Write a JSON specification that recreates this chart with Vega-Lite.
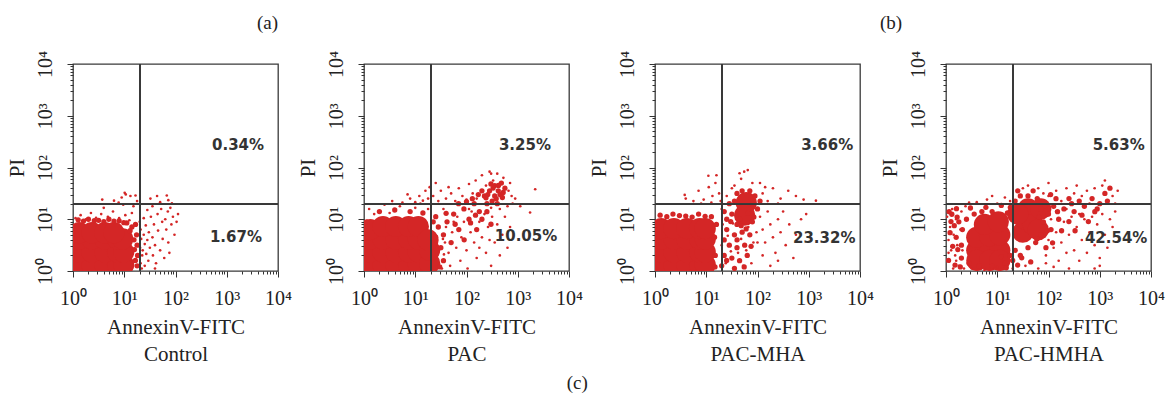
{
"$schema": "https://vega.github.io/schema/vega-lite/v6.json",
"background": "white",
"padding": {"left": 5, "top": 12, "right": 0, "bottom": 0},
"bounds": "flush",
"spacing": 86,
"title": {"text": "(c)", "orient": "bottom", "anchor": "middle", "offset": 9, "dx": -8, "font": "Liberation Serif", "fontSize": 19, "fontWeight": "normal", "color": "#222"},
"config": {"view": {"stroke": "#3a3a3a", "strokeWidth": 1.3}, "font": "Liberation Serif",
"axisX": {"values": [1,2,3,4,5,6,7,8,9,10,20,30,40,50,60,70,80,90,100,200,300,400,500,600,700,800,900,1000,2000,3000,4000,5000,6000,7000,8000,9000,10000], "labelExpr": "datum.value==1?'10⁰':datum.value==10?'10¹':datum.value==100?'10²':datum.value==1000?'10³':datum.value==10000?'10⁴':''", "labelFlush": false, "labelOverlap": false, "grid": false, "domain": false, "tickColor": "#333", "tickSize": {"condition": {"test": "indexof([1,10,100,1000,10000], datum.value) >= 0", "value": 6}, "value": 3}, "labelFont": "Liberation Serif", "labelFontSize": 20, "labelColor": "#222", "labelPadding": 11, "titleFont": "Liberation Serif", "titleFontSize": 21, "titleFontWeight": "normal", "titleColor": "#222", "titlePadding": 8, "titleLineHeight": 27},
"axisY": {"values": [1,2,3,4,5,6,7,8,9,10,20,30,40,50,60,70,80,90,100,200,300,400,500,600,700,800,900,1000,2000,3000,4000,5000,6000,7000,8000,9000,10000], "labelExpr": "datum.value==1?'10⁰':datum.value==10?'10¹':datum.value==100?'10²':datum.value==1000?'10³':datum.value==10000?'10⁴':''", "labelAngle": 270, "labelAlign": "center", "labelBaseline": "bottom", "labelFlush": false, "labelOverlap": false, "grid": false, "domain": false, "tickColor": "#333", "tickSize": {"condition": {"test": "indexof([1,10,100,1000,10000], datum.value) >= 0", "value": 6}, "value": 3}, "labelFont": "Liberation Serif", "labelFontSize": 20, "labelColor": "#222", "labelPadding": 12, "titleFont": "Liberation Serif", "titleFontSize": 21, "titleFontWeight": "normal", "titleColor": "#222", "titlePadding": 8}
},
"datasets": {
"pct": [
{"g":"Control","x":1660,"y":275,"t":"0.34%"},{"g":"Control","x":1510,"y":4.57,"t":"1.67%"},
{"g":"PAC","x":1380,"y":275,"t":"3.25%"},{"g":"PAC","x":1450,"y":4.68,"t":"10.05%"},
{"g":"PAC-MHA","x":2290,"y":275,"t":"3.66%"},{"g":"PAC-MHA","x":2000,"y":4.37,"t":"23.32%"},
{"g":"PAC-HMHA","x":2340,"y":275,"t":"5.63%"},{"g":"PAC-HMHA","x":2090,"y":4.37,"t":"42.54%"}
],
"control": [
{"d":"core","x":1.32,"y":1.32},{"d":"core","x":2.34,"y":1.32},{"d":"core","x":4.17,"y":1.32},{"d":"core","x":7.41,"y":1.32},{"d":"core","x":9.77,"y":1.32},
{"d":"core","x":1.32,"y":2.34},{"d":"core","x":2.34,"y":2.34},{"d":"core","x":4.17,"y":2.34},{"d":"core","x":7.41,"y":2.34},{"d":"core","x":9.77,"y":2.34},
{"d":"core","x":1.32,"y":4.17},{"d":"core","x":2.34,"y":4.17},{"d":"core","x":4.17,"y":4.17},{"d":"core","x":7.41,"y":4.17},{"d":"core","x":9.33,"y":4.17},
{"d":"core","x":1.32,"y":5.5},{"d":"core","x":2.34,"y":5.5},{"d":"core","x":4.17,"y":5.5},{"d":"core","x":6.31,"y":5.5},
{"d":"dense","x":1.26,"y":9.77},{"d":"dense","x":2.0,"y":10},{"d":"dense","x":3.16,"y":9.55},{"d":"dense","x":5.01,"y":10},{"d":"dense","x":7.94,"y":9.33},{"d":"dense","x":11.2,"y":8.51},{"d":"dense","x":14.1,"y":7.08},{"d":"dense","x":17.4,"y":5.01},{"d":"dense","x":17.8,"y":3.16},{"d":"dense","x":18.2,"y":2.0},{"d":"dense","x":17.8,"y":1.26},{"d":"dense","x":16.6,"y":7.94},
{"d":"dense","x":1.6,"y":9.2},{"d":"dense","x":2.6,"y":9.4},{"d":"dense","x":4.0,"y":9.0},{"d":"dense","x":6.3,"y":9.2},{"d":"dense","x":9.8,"y":8.6},{"d":"dense","x":13,"y":6.0},{"d":"dense","x":15.5,"y":4.0},{"d":"dense","x":16.5,"y":1.6},{"d":"dense","x":15.8,"y":2.6},
{"d":"event","x":3.72,"y":24.0},{"d":"event","x":6.31,"y":22.9},{"d":"event","x":8.91,"y":26.3},{"d":"event","x":13.2,"y":28.2},{"d":"event","x":16.6,"y":28.8},{"d":"event","x":17.8,"y":22.4},{"d":"event","x":10.2,"y":32.4},{"d":"event","x":32.4,"y":25.1},{"d":"event","x":43.7,"y":28.2},{"d":"event","x":67.6,"y":28.8},{"d":"event","x":72.4,"y":23.4},{"d":"event","x":85.1,"y":20.4},{"d":"event","x":7.76,"y":20.9},{"d":"event","x":10.7,"y":30.2},{"d":"event","x":50.1,"y":21.4},
{"d":"event","x":20.0,"y":8.91},{"d":"event","x":20.9,"y":6.31},{"d":"event","x":21.4,"y":4.17},{"d":"event","x":20.4,"y":2.82},{"d":"event","x":22.4,"y":2.0},{"d":"event","x":20.9,"y":1.41},{"d":"event","x":24.0,"y":5.01},{"d":"event","x":25.1,"y":3.31},{"d":"event","x":22.9,"y":2.51},{"d":"event","x":26.3,"y":7.59},{"d":"event","x":28.2,"y":3.98},{"d":"event","x":26.9,"y":2.14},{"d":"event","x":25.1,"y":1.26},{"d":"event","x":30.2,"y":5.62},{"d":"event","x":31.6,"y":2.82},{"d":"event","x":29.5,"y":1.58},{"d":"event","x":33.1,"y":11.2},{"d":"event","x":35.5,"y":4.47},{"d":"event","x":36.3,"y":2.0},{"d":"event","x":38.0,"y":7.94},{"d":"event","x":39.8,"y":3.16},{"d":"event","x":41.7,"y":1.41},{"d":"event","x":44.7,"y":12.6},{"d":"event","x":45.7,"y":6.03},{"d":"event","x":50.1,"y":2.51},{"d":"event","x":52.5,"y":15.8},{"d":"event","x":55.0,"y":8.91},{"d":"event","x":56.2,"y":4.17},{"d":"event","x":60.3,"y":1.78},{"d":"event","x":63.1,"y":10},{"d":"event","x":66.1,"y":6.31},{"d":"event","x":70.8,"y":14.1},{"d":"event","x":72.4,"y":3.55},{"d":"event","x":75.9,"y":2.24},{"d":"event","x":79.4,"y":16.6},{"d":"event","x":83.2,"y":7.94},{"d":"event","x":89.1,"y":11.2},{"d":"event","x":95.5,"y":5.01},{"d":"event","x":105,"y":8.91},{"d":"event","x":112,"y":12.6},{"d":"event","x":24.0,"y":10.5},{"d":"event","x":28.2,"y":15.1},{"d":"event","x":21.9,"y":1.12},{"d":"event","x":39.8,"y":1.12},{"d":"event","x":35.5,"y":17.8},
{"d":"event","x":1.12,"y":10.5},{"d":"event","x":1.41,"y":12.0},{"d":"event","x":1.78,"y":10},{"d":"event","x":2.24,"y":13.2},{"d":"event","x":2.82,"y":10.7},{"d":"event","x":3.55,"y":12.6},{"d":"event","x":4.79,"y":11.2},{"d":"event","x":6.03,"y":14.1},{"d":"event","x":7.94,"y":10.5},{"d":"event","x":10.5,"y":12.0},{"d":"event","x":12.6,"y":9.55},{"d":"event","x":14.1,"y":13.2},{"d":"event","x":15.1,"y":17.8},{"d":"event","x":9.55,"y":19.1},{"d":"event","x":3.98,"y":16.6}
],
"pac": [
{"d":"core","x":1.32,"y":1.32},{"d":"core","x":2.34,"y":1.32},{"d":"core","x":4.17,"y":1.32},{"d":"core","x":7.41,"y":1.32},{"d":"core","x":11.5,"y":1.32},
{"d":"core","x":1.32,"y":2.34},{"d":"core","x":2.34,"y":2.34},{"d":"core","x":4.17,"y":2.34},{"d":"core","x":7.41,"y":2.34},{"d":"core","x":11.5,"y":2.34},
{"d":"core","x":1.32,"y":4.17},{"d":"core","x":2.34,"y":4.17},{"d":"core","x":4.17,"y":4.17},{"d":"core","x":7.41,"y":4.17},{"d":"core","x":11.5,"y":4.17},
{"d":"core","x":1.32,"y":6.31},{"d":"core","x":2.34,"y":7.24},{"d":"core","x":4.17,"y":7.24},{"d":"core","x":7.41,"y":7.24},{"d":"core","x":11.5,"y":7.24},
{"d":"core","x":19.1,"y":1.41},{"d":"core","x":19.1,"y":2.51},{"d":"core","x":17.8,"y":3.98},
{"d":"dense","x":224,"y":28.2},{"d":"dense","x":282,"y":35.5},{"d":"dense","x":355,"y":28.2},{"d":"dense","x":417,"y":35.5},{"d":"dense","x":501,"y":26.3},{"d":"dense","x":316,"y":22.4},{"d":"dense","x":398,"y":20.0},{"d":"dense","x":251,"y":20.0},{"d":"dense","x":562,"y":39.8},{"d":"dense","x":355,"y":44.7},{"d":"dense","x":479,"y":50.1},{"d":"dense","x":200,"y":35.5},
{"d":"dense","x":260,"y":30},{"d":"dense","x":330,"y":40},{"d":"dense","x":450,"y":30},{"d":"dense","x":380,"y":25},{"d":"dense","x":300,"y":48},{"d":"dense","x":420,"y":45},{"d":"dense","x":520,"y":33},{"d":"dense","x":240,"y":26},
{"d":"dense","x":22.4,"y":8.91},{"d":"dense","x":28.2,"y":7.08},{"d":"dense","x":35.5,"y":5.01},{"d":"dense","x":31.6,"y":2.82},{"d":"dense","x":35.5,"y":1.58},{"d":"dense","x":25.1,"y":11.2},{"d":"dense","x":41.7,"y":8.91},{"d":"dense","x":50.1,"y":3.55},{"d":"dense","x":56.2,"y":12.6},{"d":"dense","x":70.8,"y":6.31},{"d":"dense","x":89.1,"y":15.8},{"d":"dense","x":112,"y":10},{"d":"dense","x":141,"y":20.0},{"d":"dense","x":178,"y":14.1},{"d":"dense","x":158,"y":6.31},
{"d":"dense","x":25,"y":4.5},{"d":"dense","x":30,"y":1.2},{"d":"dense","x":40,"y":13},{"d":"dense","x":60,"y":8},{"d":"dense","x":70,"y":20},{"d":"dense","x":90,"y":4},{"d":"dense","x":120,"y":8.5},{"d":"dense","x":150,"y":12},{"d":"dense","x":200,"y":10},{"d":"dense","x":250,"y":14},{"d":"dense","x":300,"y":8},{"d":"dense","x":130,"y":25},{"d":"dense","x":170,"y":30},{"d":"dense","x":100,"y":22},
{"d":"dense","x":2.0,"y":14.1},{"d":"dense","x":3.98,"y":15.1},{"d":"dense","x":7.94,"y":14.1},{"d":"dense","x":14.1,"y":13.2},{"d":"dense","x":1.12,"y":8.91},
{"d":"event","x":3.55,"y":22.4},{"d":"event","x":5.62,"y":20.9},{"d":"event","x":7.94,"y":25.1},{"d":"event","x":10,"y":21.4},{"d":"event","x":12.0,"y":28.2},{"d":"event","x":14.1,"y":22.9},{"d":"event","x":15.8,"y":35.5},{"d":"event","x":17.8,"y":25.1},{"d":"event","x":19.1,"y":41.7},{"d":"event","x":7.08,"y":30.2},{"d":"event","x":12.6,"y":20.0},
{"d":"event","x":22.4,"y":28.2},{"d":"event","x":28.2,"y":22.4},{"d":"event","x":31.6,"y":35.5},{"d":"event","x":39.8,"y":25.1},{"d":"event","x":50.1,"y":31.6},{"d":"event","x":60.3,"y":22.4},{"d":"event","x":70.8,"y":39.8},{"d":"event","x":83.2,"y":28.2},{"d":"event","x":100,"y":24.0},{"d":"event","x":112,"y":47.9},{"d":"event","x":132,"y":31.6},{"d":"event","x":158,"y":25.1},{"d":"event","x":151,"y":56.2},{"d":"event","x":44.7,"y":41.7},{"d":"event","x":25.1,"y":50.1},
{"d":"event","x":200,"y":70.8},{"d":"event","x":282,"y":83.2},{"d":"event","x":398,"y":75.9},{"d":"event","x":525,"y":63.1},{"d":"event","x":661,"y":35.5},{"d":"event","x":759,"y":28.2},{"d":"event","x":794,"y":20.0},{"d":"event","x":631,"y":17.8},{"d":"event","x":447,"y":15.8},{"d":"event","x":302,"y":16.6},{"d":"event","x":240,"y":44.7},{"d":"event","x":331,"y":56.2},{"d":"event","x":708,"y":50.1},{"d":"event","x":891,"y":25.1},{"d":"event","x":302,"y":75.9},
{"d":"event","x":2190,"y":38.0},{"d":"event","x":1740,"y":13.5},{"d":"event","x":1120,"y":17.8},
{"d":"event","x":35.5,"y":15.8},{"d":"event","x":39.8,"y":7.08},{"d":"event","x":44.7,"y":2.24},{"d":"event","x":47.9,"y":1.26},{"d":"event","x":52.5,"y":5.62},{"d":"event","x":63.1,"y":2.82},{"d":"event","x":66.1,"y":11.2},{"d":"event","x":75.9,"y":1.58},{"d":"event","x":79.4,"y":4.47},{"d":"event","x":89.1,"y":8.91},{"d":"event","x":100,"y":2.51},{"d":"event","x":105,"y":1.12},{"d":"event","x":120,"y":5.62},{"d":"event","x":126,"y":14.1},{"d":"event","x":141,"y":3.55},{"d":"event","x":158,"y":1.78},{"d":"event","x":178,"y":8.91},{"d":"event","x":200,"y":4.47},{"d":"event","x":224,"y":12.6},{"d":"event","x":240,"y":2.24},{"d":"event","x":263,"y":7.08},{"d":"event","x":302,"y":1.26},{"d":"event","x":316,"y":11.2},{"d":"event","x":355,"y":3.55},{"d":"event","x":398,"y":7.94},{"d":"event","x":447,"y":2.0},{"d":"event","x":501,"y":5.01},{"d":"event","x":562,"y":11.2},{"d":"event","x":631,"y":2.82},{"d":"event","x":708,"y":7.08},{"d":"event","x":282,"y":3.98},{"d":"event","x":178,"y":2.82},{"d":"event","x":112,"y":15.8},{"d":"event","x":56.2,"y":8.91},{"d":"event","x":38.0,"y":3.55},
{"d":"event","x":1.26,"y":15.8},{"d":"event","x":2.51,"y":19.1},{"d":"event","x":5.01,"y":17.8},{"d":"event","x":10,"y":16.6},{"d":"event","x":1.58,"y":12.6},{"d":"event","x":3.16,"y":13.2},{"d":"event","x":17.8,"y":15.8},
{"d":"event","x":33.1,"y":1.12},{"d":"event","x":36.3,"y":2.09},{"d":"event","x":34.7,"y":4.17}
],
"mha": [
{"d":"core","x":1.32,"y":1.32},{"d":"core","x":2.34,"y":1.32},{"d":"core","x":4.17,"y":1.32},{"d":"core","x":7.41,"y":1.32},{"d":"core","x":9.55,"y":1.32},
{"d":"core","x":1.32,"y":2.34},{"d":"core","x":2.34,"y":2.34},{"d":"core","x":4.17,"y":2.34},{"d":"core","x":7.41,"y":2.34},{"d":"core","x":9.55,"y":2.34},
{"d":"core","x":1.32,"y":4.17},{"d":"core","x":2.34,"y":4.17},{"d":"core","x":4.17,"y":4.17},{"d":"core","x":7.41,"y":4.17},{"d":"core","x":9.55,"y":4.17},
{"d":"core","x":1.32,"y":6.61},{"d":"core","x":2.34,"y":6.61},{"d":"core","x":4.17,"y":6.61},{"d":"core","x":7.41,"y":6.61},{"d":"core","x":9.55,"y":6.61},
{"d":"core","x":60.3,"y":20.9},{"d":"core","x":56.2,"y":12.0},
{"d":"dense","x":35.5,"y":22.4},{"d":"dense","x":39.8,"y":31.6},{"d":"dense","x":89.1,"y":28.2},{"d":"dense","x":100,"y":15.8},{"d":"dense","x":79.4,"y":8.91},{"d":"dense","x":39.8,"y":7.94},{"d":"dense","x":31.6,"y":12.6},{"d":"dense","x":70.8,"y":35.5},{"d":"dense","x":50.1,"y":35.5},{"d":"dense","x":112,"y":22.4},
{"d":"dense","x":25.1,"y":6.31},{"d":"dense","x":35.5,"y":5.01},{"d":"dense","x":50.1,"y":5.62},{"d":"dense","x":70.8,"y":5.01},{"d":"dense","x":28.2,"y":3.16},{"d":"dense","x":39.8,"y":2.82},{"d":"dense","x":56.2,"y":3.16},{"d":"dense","x":22.4,"y":2.0},{"d":"dense","x":31.6,"y":1.78},{"d":"dense","x":44.7,"y":1.58},{"d":"dense","x":63.1,"y":2.0},{"d":"dense","x":25.1,"y":10},{"d":"dense","x":22.4,"y":3.98},{"d":"dense","x":35.5,"y":1.12},{"d":"dense","x":20.0,"y":1.26},{"d":"dense","x":22.4,"y":14.1},{"d":"dense","x":28.2,"y":20.0},
{"d":"dense","x":30,"y":9},{"d":"dense","x":45,"y":10},{"d":"dense","x":65,"y":13},{"d":"dense","x":48,"y":7.5},{"d":"dense","x":40,"y":4},{"d":"dense","x":55,"y":1.2},{"d":"dense","x":25,"y":1.6},{"d":"dense","x":60,"y":6.5},{"d":"dense","x":75,"y":3},{"d":"dense","x":85,"y":11},
{"d":"dense","x":1.26,"y":12.0},{"d":"dense","x":2.24,"y":12.6},{"d":"dense","x":3.98,"y":11.5},{"d":"dense","x":7.08,"y":12.6},{"d":"dense","x":12.6,"y":11.2},{"d":"dense","x":15.8,"y":7.94},
{"d":"dense","x":1.7,"y":11.2},{"d":"dense","x":3.0,"y":11.8},{"d":"dense","x":5.3,"y":11.0},{"d":"dense","x":9.5,"y":11.4},{"d":"dense","x":14.5,"y":4.5},{"d":"dense","x":15.0,"y":2.0},{"d":"dense","x":14.8,"y":1.2},
{"d":"event","x":3.98,"y":25.1},{"d":"event","x":5.62,"y":22.4},{"d":"event","x":7.08,"y":35.5},{"d":"event","x":8.91,"y":24.0},{"d":"event","x":11.2,"y":41.7},{"d":"event","x":13.2,"y":28.2},{"d":"event","x":15.8,"y":70.8},{"d":"event","x":17.8,"y":31.6},{"d":"event","x":12.6,"y":20.9},{"d":"event","x":7.94,"y":20.0},{"d":"event","x":19.1,"y":22.4},{"d":"event","x":11.0,"y":69.2},{"d":"event","x":3.8,"y":29.5},{"d":"event","x":15.1,"y":50.1},
{"d":"event","x":126,"y":31.6},{"d":"event","x":158,"y":22.4},{"d":"event","x":200,"y":39.8},{"d":"event","x":282,"y":25.1},{"d":"event","x":398,"y":35.5},{"d":"event","x":562,"y":28.2},{"d":"event","x":794,"y":24.0},{"d":"event","x":112,"y":50.1},{"d":"event","x":251,"y":20.0},{"d":"event","x":141,"y":41.7},{"d":"event","x":1380,"y":22.9},
{"d":"event","x":44.7,"y":77.6},{"d":"event","x":64.6,"y":89.1},{"d":"event","x":55.0,"y":83.2},{"d":"event","x":35.5,"y":44.7},{"d":"event","x":79.4,"y":50.1},{"d":"event","x":47.9,"y":60.3},
{"d":"event","x":112,"y":11.2},{"d":"event","x":126,"y":6.31},{"d":"event","x":141,"y":3.55},{"d":"event","x":158,"y":14.1},{"d":"event","x":178,"y":7.94},{"d":"event","x":200,"y":4.47},{"d":"event","x":224,"y":2.24},{"d":"event","x":251,"y":10},{"d":"event","x":282,"y":5.62},{"d":"event","x":316,"y":14.1},{"d":"event","x":355,"y":3.16},{"d":"event","x":417,"y":7.94},{"d":"event","x":501,"y":1.78},{"d":"event","x":562,"y":5.01},{"d":"event","x":708,"y":10},{"d":"event","x":891,"y":12.6},{"d":"event","x":126,"y":2.0},{"d":"event","x":178,"y":1.26},{"d":"event","x":100,"y":3.55},{"d":"event","x":251,"y":1.58},
{"d":"event","x":20.0,"y":3.16},{"d":"event","x":20.9,"y":7.94},{"d":"event","x":24.0,"y":1.41},{"d":"event","x":26.3,"y":4.79},{"d":"event","x":30.2,"y":2.4},{"d":"event","x":33.1,"y":8.32},{"d":"event","x":38.0,"y":3.8},{"d":"event","x":41.7,"y":2.24},{"d":"event","x":47.9,"y":4.17},{"d":"event","x":52.5,"y":1.26},{"d":"event","x":60.3,"y":2.51},{"d":"event","x":66.1,"y":7.08},{"d":"event","x":75.9,"y":1.41},{"d":"event","x":83.2,"y":3.55},{"d":"event","x":95.5,"y":5.62},{"d":"event","x":20.0,"y":15.8},{"d":"event","x":25.1,"y":28.2},{"d":"event","x":31.6,"y":39.8}
],
"hmha": [
{"d":"core","x":3.98,"y":2.51},{"d":"core","x":7.08,"y":2.51},{"d":"core","x":11.2,"y":2.51},{"d":"core","x":3.98,"y":4.47},{"d":"core","x":7.08,"y":4.79},{"d":"core","x":11.2,"y":5.01},{"d":"core","x":5.62,"y":7.94},{"d":"core","x":10.5,"y":8.91},
{"d":"core","x":4.0,"y":1.6},{"d":"core","x":7.1,"y":1.6},{"d":"core","x":11.2,"y":1.6},
{"d":"core","x":31.6,"y":5.62},{"d":"core","x":35.5,"y":10},{"d":"core","x":39.8,"y":15.8},{"d":"core","x":50.1,"y":7.94},{"d":"core","x":25.1,"y":12.6},{"d":"core","x":70.8,"y":15.8},{"d":"core","x":63,"y":6.3},
{"d":"dense","x":2.0,"y":3.16},{"d":"dense","x":2.09,"y":6.31},{"d":"dense","x":2.51,"y":10},{"d":"dense","x":2.82,"y":1.41},{"d":"dense","x":3.55,"y":12.6},{"d":"dense","x":5.01,"y":14.1},{"d":"dense","x":2.0,"y":1.78},{"d":"dense","x":4.47,"y":1.26},{"d":"dense","x":7.94,"y":1.26},{"d":"dense","x":14.1,"y":1.41},{"d":"dense","x":15.8,"y":13.2},{"d":"dense","x":7.94,"y":14.1},{"d":"dense","x":1.58,"y":4.47},{"d":"dense","x":1.78,"y":8.91},{"d":"dense","x":17.8,"y":2.0},
{"d":"dense","x":1.12,"y":1.6},{"d":"dense","x":1.2,"y":5.5},{"d":"dense","x":1.35,"y":3.0},{"d":"dense","x":1.3,"y":12.5},{"d":"dense","x":1.5,"y":1.3},{"d":"dense","x":1.45,"y":7.5},{"d":"dense","x":1.7,"y":2.6},{"d":"dense","x":1.65,"y":11},{"d":"dense","x":1.25,"y":9},{"d":"dense","x":1.9,"y":1.2},{"d":"dense","x":1.15,"y":14},{"d":"dense","x":1.6,"y":16},
{"d":"dense","x":15,"y":1.15},{"d":"dense","x":12,"y":1.9},{"d":"dense","x":25,"y":1.3},{"d":"dense","x":30,"y":1.8},{"d":"dense","x":45,"y":1.5},{"d":"dense","x":20,"y":1.6},
{"d":"dense","x":65,"y":11},{"d":"dense","x":85,"y":18},{"d":"dense","x":60,"y":4.2},{"d":"dense","x":95,"y":6},{"d":"dense","x":120,"y":3.5},{"d":"dense","x":150,"y":14},{"d":"dense","x":180,"y":6},{"d":"dense","x":140,"y":25},{"d":"dense","x":110,"y":30},{"d":"dense","x":250,"y":9},{"d":"dense","x":330,"y":6},{"d":"dense","x":450,"y":12},{"d":"dense","x":600,"y":9},{"d":"dense","x":800,"y":14},
{"d":"dense","x":6,"y":17},{"d":"dense","x":12,"y":18.5},{"d":"dense","x":18,"y":17},{"d":"dense","x":3,"y":16.5},
{"d":"dense","x":22.4,"y":2.51},{"d":"dense","x":28.2,"y":2.0},{"d":"dense","x":39.8,"y":2.82},{"d":"dense","x":56.2,"y":3.55},{"d":"dense","x":70.8,"y":5.01},{"d":"dense","x":79.4,"y":8.91},{"d":"dense","x":70.8,"y":15.8},{"d":"dense","x":60.3,"y":25.1},{"d":"dense","x":39.8,"y":28.2},{"d":"dense","x":28.2,"y":28.2},{"d":"dense","x":22.4,"y":22.4},{"d":"dense","x":100,"y":12.6},{"d":"dense","x":112,"y":6.31},{"d":"dense","x":89.1,"y":2.82},{"d":"dense","x":25.1,"y":35.5},{"d":"dense","x":50.1,"y":35.5},{"d":"dense","x":126,"y":17.8},{"d":"dense","x":158,"y":10},
{"d":"dense","x":200,"y":15.8},{"d":"dense","x":251,"y":25.1},{"d":"dense","x":316,"y":14.1},{"d":"dense","x":398,"y":22.4},{"d":"dense","x":501,"y":17.8},{"d":"dense","x":708,"y":25.1},{"d":"dense","x":1000,"y":20.0},{"d":"dense","x":1260,"y":31.6},{"d":"dense","x":1580,"y":39.8},{"d":"dense","x":1410,"y":22.4},{"d":"dense","x":891,"y":15.8},{"d":"dense","x":282,"y":20.0},
{"d":"event","x":1.05,"y":11.2},{"d":"event","x":1.12,"y":3.98},{"d":"event","x":1.15,"y":1.58},{"d":"event","x":1.2,"y":7.08},{"d":"event","x":1.26,"y":2.51},{"d":"event","x":1.32,"y":15.8},{"d":"event","x":1.38,"y":1.12},{"d":"event","x":1.41,"y":5.01},{"d":"event","x":1.51,"y":2.0},{"d":"event","x":1.58,"y":10},{"d":"event","x":1.66,"y":3.16},{"d":"event","x":1.78,"y":1.26},{"d":"event","x":1.91,"y":6.31},{"d":"event","x":2.0,"y":14.1},{"d":"event","x":2.09,"y":2.51},{"d":"event","x":2.24,"y":1.12},{"d":"event","x":2.4,"y":17.8},{"d":"event","x":1.26,"y":8.91},{"d":"event","x":1.12,"y":2.24},{"d":"event","x":1.58,"y":1.58},
{"d":"event","x":3.98,"y":21.4},{"d":"event","x":6.31,"y":24.0},{"d":"event","x":10,"y":20.0},{"d":"event","x":14.1,"y":26.3},{"d":"event","x":17.8,"y":22.4},{"d":"event","x":2.82,"y":20.9},{"d":"event","x":7.94,"y":28.2},
{"d":"event","x":3.16,"y":1.12},{"d":"event","x":5.62,"y":1.05},{"d":"event","x":10,"y":1.2},{"d":"event","x":20.0,"y":1.12},{"d":"event","x":35.5,"y":1.26},{"d":"event","x":63.1,"y":1.12},{"d":"event","x":126,"y":1.2},{"d":"event","x":251,"y":1.12},{"d":"event","x":794,"y":1.12},{"d":"event","x":1000,"y":1.26},
{"d":"event","x":89.1,"y":2.0},{"d":"event","x":100,"y":3.98},{"d":"event","x":112,"y":10},{"d":"event","x":126,"y":2.82},{"d":"event","x":141,"y":5.62},{"d":"event","x":158,"y":1.58},{"d":"event","x":178,"y":3.55},{"d":"event","x":200,"y":8.91},{"d":"event","x":224,"y":2.24},{"d":"event","x":251,"y":5.01},{"d":"event","x":282,"y":11.2},{"d":"event","x":316,"y":2.51},{"d":"event","x":355,"y":7.08},{"d":"event","x":398,"y":1.58},{"d":"event","x":447,"y":3.98},{"d":"event","x":501,"y":10},{"d":"event","x":562,"y":2.24},{"d":"event","x":631,"y":5.62},{"d":"event","x":708,"y":11.2},{"d":"event","x":794,"y":3.16},{"d":"event","x":891,"y":7.94},{"d":"event","x":1000,"y":1.78},{"d":"event","x":1120,"y":12.6},{"d":"event","x":1260,"y":5.01},{"d":"event","x":1410,"y":2.82},{"d":"event","x":1580,"y":10},{"d":"event","x":1780,"y":7.08},{"d":"event","x":2000,"y":14.1},{"d":"event","x":141,"y":14.1},{"d":"event","x":224,"y":15.8},{"d":"event","x":398,"y":12.6},{"d":"event","x":89.1,"y":1.41},
{"d":"event","x":100,"y":28.2},{"d":"event","x":141,"y":35.5},{"d":"event","x":178,"y":22.4},{"d":"event","x":224,"y":39.8},{"d":"event","x":316,"y":31.6},{"d":"event","x":355,"y":44.7},{"d":"event","x":447,"y":28.2},{"d":"event","x":562,"y":35.5},{"d":"event","x":631,"y":20.0},{"d":"event","x":794,"y":39.8},{"d":"event","x":1120,"y":44.7},{"d":"event","x":1260,"y":56.2},{"d":"event","x":1780,"y":28.2},{"d":"event","x":2000,"y":20.0},{"d":"event","x":2240,"y":35.5},{"d":"event","x":63.1,"y":39.8},{"d":"event","x":79.4,"y":31.6},{"d":"event","x":39.8,"y":44.7},{"d":"event","x":31.6,"y":39.8},{"d":"event","x":100,"y":50.1}
]
},
"hconcat": [
{
"width": 205, "height": 207,
"title": {"text": "(a)", "anchor": "end", "frame": "group", "offset": 18, "font": "Liberation Serif", "fontSize": 19, "fontWeight": "normal", "color": "#222"},
"data": {"name": "control"},
"layer": [
{"transform": [{"filter": "datum.d == 'core'"}], "mark": {"type": "circle", "color": "#d42626", "opacity": 1, "clip": true, "size": 450},
"encoding": {"x": {"field": "x", "type": "quantitative", "scale": {"type": "log", "domain": [1, 10000], "nice": false}, "title": ["AnnexinV-FITC", "Control"]}, "y": {"field": "y", "type": "quantitative", "scale": {"type": "log", "domain": [1, 10000], "nice": false}, "title": "PI"}}},
{"transform": [{"filter": "datum.d == 'dense'"}], "mark": {"type": "circle", "color": "#d42626", "opacity": 1, "clip": true, "size": 28},
"encoding": {"x": {"field": "x", "type": "quantitative", "title": ["AnnexinV-FITC", "Control"]}, "y": {"field": "y", "type": "quantitative", "title": "PI"}}},
{"transform": [{"filter": "datum.d == 'event'"}], "mark": {"type": "circle", "color": "#d42626", "opacity": 1, "clip": true, "size": 7},
"encoding": {"x": {"field": "x", "type": "quantitative", "title": ["AnnexinV-FITC", "Control"]}, "y": {"field": "y", "type": "quantitative", "title": "PI"}}},
{"mark": {"type": "rule", "color": "#3a3a3a", "strokeWidth": 1.2}, "encoding": {"x": {"datum": 20, "type": "quantitative", "title": ["AnnexinV-FITC", "Control"]}}},
{"mark": {"type": "rule", "color": "#3a3a3a", "strokeWidth": 1.2}, "encoding": {"y": {"datum": 20, "type": "quantitative", "title": "PI"}}},
{"data": {"name": "pct"}, "transform": [{"filter": "datum.g == 'Control'"}], "mark": {"type": "text", "font": "DejaVu Sans", "fontWeight": "bold", "fontSize": 15, "color": "#333"},
"encoding": {"x": {"field": "x", "type": "quantitative", "title": ["AnnexinV-FITC", "Control"]}, "y": {"field": "y", "type": "quantitative", "title": "PI"}, "text": {"field": "t"}}}
]
},
{
"width": 205, "height": 207,
"data": {"name": "pac"},
"layer": [
{"transform": [{"filter": "datum.d == 'core'"}], "mark": {"type": "circle", "color": "#d42626", "opacity": 1, "clip": true, "size": 450},
"encoding": {"x": {"field": "x", "type": "quantitative", "scale": {"type": "log", "domain": [1, 10000], "nice": false}, "title": ["AnnexinV-FITC", "PAC"]}, "y": {"field": "y", "type": "quantitative", "scale": {"type": "log", "domain": [1, 10000], "nice": false}, "title": "PI"}}},
{"transform": [{"filter": "datum.d == 'dense'"}], "mark": {"type": "circle", "color": "#d42626", "opacity": 1, "clip": true, "size": 28},
"encoding": {"x": {"field": "x", "type": "quantitative", "title": ["AnnexinV-FITC", "PAC"]}, "y": {"field": "y", "type": "quantitative", "title": "PI"}}},
{"transform": [{"filter": "datum.d == 'event'"}], "mark": {"type": "circle", "color": "#d42626", "opacity": 1, "clip": true, "size": 7},
"encoding": {"x": {"field": "x", "type": "quantitative", "title": ["AnnexinV-FITC", "PAC"]}, "y": {"field": "y", "type": "quantitative", "title": "PI"}}},
{"mark": {"type": "rule", "color": "#3a3a3a", "strokeWidth": 1.2}, "encoding": {"x": {"datum": 20, "type": "quantitative", "title": ["AnnexinV-FITC", "PAC"]}}},
{"mark": {"type": "rule", "color": "#3a3a3a", "strokeWidth": 1.2}, "encoding": {"y": {"datum": 20, "type": "quantitative", "title": "PI"}}},
{"data": {"name": "pct"}, "transform": [{"filter": "datum.g == 'PAC'"}], "mark": {"type": "text", "font": "DejaVu Sans", "fontWeight": "bold", "fontSize": 15, "color": "#333"},
"encoding": {"x": {"field": "x", "type": "quantitative", "title": ["AnnexinV-FITC", "PAC"]}, "y": {"field": "y", "type": "quantitative", "title": "PI"}, "text": {"field": "t"}}}
]
},
{
"width": 205, "height": 207,
"data": {"name": "mha"},
"layer": [
{"transform": [{"filter": "datum.d == 'core'"}], "mark": {"type": "circle", "color": "#d42626", "opacity": 1, "clip": true, "size": 450},
"encoding": {"x": {"field": "x", "type": "quantitative", "scale": {"type": "log", "domain": [1, 10000], "nice": false}, "title": ["AnnexinV-FITC", "PAC-MHA"]}, "y": {"field": "y", "type": "quantitative", "scale": {"type": "log", "domain": [1, 10000], "nice": false}, "title": "PI"}}},
{"transform": [{"filter": "datum.d == 'dense'"}], "mark": {"type": "circle", "color": "#d42626", "opacity": 1, "clip": true, "size": 28},
"encoding": {"x": {"field": "x", "type": "quantitative", "title": ["AnnexinV-FITC", "PAC-MHA"]}, "y": {"field": "y", "type": "quantitative", "title": "PI"}}},
{"transform": [{"filter": "datum.d == 'event'"}], "mark": {"type": "circle", "color": "#d42626", "opacity": 1, "clip": true, "size": 7},
"encoding": {"x": {"field": "x", "type": "quantitative", "title": ["AnnexinV-FITC", "PAC-MHA"]}, "y": {"field": "y", "type": "quantitative", "title": "PI"}}},
{"mark": {"type": "rule", "color": "#3a3a3a", "strokeWidth": 1.2}, "encoding": {"x": {"datum": 20, "type": "quantitative", "title": ["AnnexinV-FITC", "PAC-MHA"]}}},
{"mark": {"type": "rule", "color": "#3a3a3a", "strokeWidth": 1.2}, "encoding": {"y": {"datum": 20, "type": "quantitative", "title": "PI"}}},
{"data": {"name": "pct"}, "transform": [{"filter": "datum.g == 'PAC-MHA'"}], "mark": {"type": "text", "font": "DejaVu Sans", "fontWeight": "bold", "fontSize": 15, "color": "#333"},
"encoding": {"x": {"field": "x", "type": "quantitative", "title": ["AnnexinV-FITC", "PAC-MHA"]}, "y": {"field": "y", "type": "quantitative", "title": "PI"}, "text": {"field": "t"}}}
]
},
{
"width": 205, "height": 207,
"title": {"text": "(b)", "anchor": "start", "frame": "group", "offset": 18, "dx": -66, "font": "Liberation Serif", "fontSize": 19, "fontWeight": "normal", "color": "#222"},
"data": {"name": "hmha"},
"layer": [
{"transform": [{"filter": "datum.d == 'core'"}], "mark": {"type": "circle", "color": "#d42626", "opacity": 1, "clip": true, "size": 450},
"encoding": {"x": {"field": "x", "type": "quantitative", "scale": {"type": "log", "domain": [1, 10000], "nice": false}, "title": ["AnnexinV-FITC", "PAC-HMHA"]}, "y": {"field": "y", "type": "quantitative", "scale": {"type": "log", "domain": [1, 10000], "nice": false}, "title": "PI"}}},
{"transform": [{"filter": "datum.d == 'dense'"}], "mark": {"type": "circle", "color": "#d42626", "opacity": 1, "clip": true, "size": 28},
"encoding": {"x": {"field": "x", "type": "quantitative", "title": ["AnnexinV-FITC", "PAC-HMHA"]}, "y": {"field": "y", "type": "quantitative", "title": "PI"}}},
{"transform": [{"filter": "datum.d == 'event'"}], "mark": {"type": "circle", "color": "#d42626", "opacity": 1, "clip": true, "size": 7},
"encoding": {"x": {"field": "x", "type": "quantitative", "title": ["AnnexinV-FITC", "PAC-HMHA"]}, "y": {"field": "y", "type": "quantitative", "title": "PI"}}},
{"mark": {"type": "rule", "color": "#3a3a3a", "strokeWidth": 1.2}, "encoding": {"x": {"datum": 20, "type": "quantitative", "title": ["AnnexinV-FITC", "PAC-HMHA"]}}},
{"mark": {"type": "rule", "color": "#3a3a3a", "strokeWidth": 1.2}, "encoding": {"y": {"datum": 20, "type": "quantitative", "title": "PI"}}},
{"data": {"name": "pct"}, "transform": [{"filter": "datum.g == 'PAC-HMHA'"}], "mark": {"type": "text", "font": "DejaVu Sans", "fontWeight": "bold", "fontSize": 15, "color": "#333"},
"encoding": {"x": {"field": "x", "type": "quantitative", "title": ["AnnexinV-FITC", "PAC-HMHA"]}, "y": {"field": "y", "type": "quantitative", "title": "PI"}, "text": {"field": "t"}}}
]
}
]
}
